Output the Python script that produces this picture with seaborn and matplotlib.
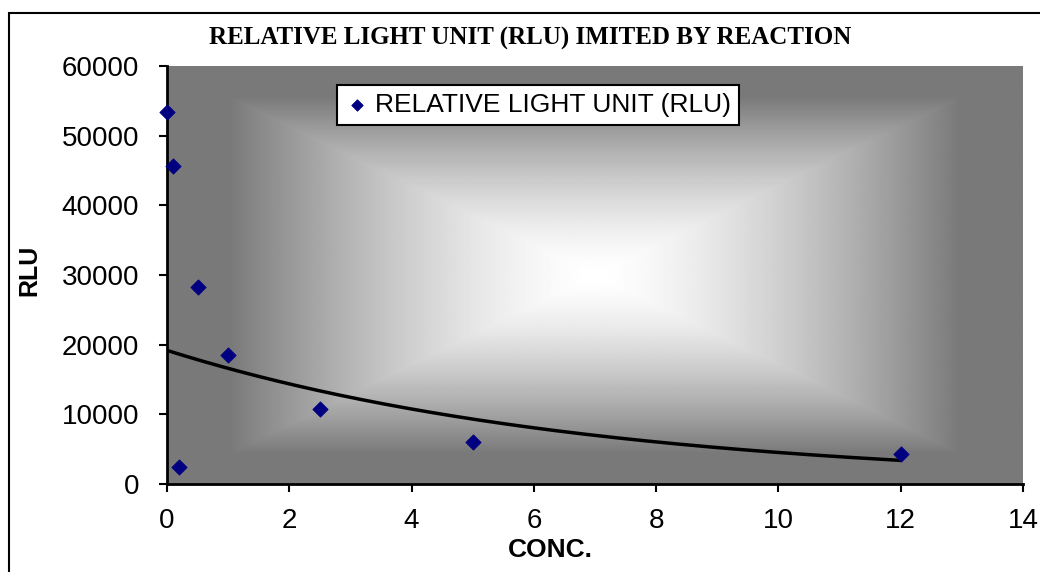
import numpy as np
import pandas as pd
import matplotlib
matplotlib.use("Agg")
import matplotlib.pyplot as plt
import seaborn as sns

# data
conc = [0, 0.1, 0.2, 0.5, 1, 2.5, 5, 12]
rlu = [53400, 45700, 2400, 28300, 18500, 10800, 6000, 4250]
x_ticks = [0, 2, 4, 6, 8, 10, 12, 14]
y_ticks = [0, 10000, 20000, 30000, 40000, 50000, 60000]

sns.set_theme(style="white")
plt.rcParams['font.family'] = ['Liberation Sans', 'DejaVu Sans']
plt.rcParams['text.color'] = 'black'
plt.rcParams['axes.labelcolor'] = 'black'
plt.rcParams['xtick.color'] = 'black'
plt.rcParams['ytick.color'] = 'black'

df = pd.DataFrame({'CONC.': conc, 'RLU': rlu})

# exponential trendline (least squares on ln y, like Excel)
b, ln_a = np.polyfit(df['CONC.'], np.log(df['RLU']), 1)
trend = pd.DataFrame({'CONC.': np.linspace(0, 12, 200)})
trend['RLU'] = np.exp(ln_a) * np.exp(b * trend['CONC.'])

fig = plt.figure(figsize=(10.4, 5.72), dpi=100)
ax = fig.add_axes([167 / 1040, 1 - 484 / 572, (1023 - 167) / 1040, (484 - 66) / 572])

# "from center" gradient background
u = np.linspace(-1, 1, 600)
v = np.linspace(-1, 1, 400)
U, V = np.meshgrid(u, v)
t = np.maximum(np.abs(U), np.abs(V))
shade = 1 - 0.52 * np.clip(t / 0.85, 0, 1) ** 1.5
ax.imshow(shade, cmap='gray', vmin=0, vmax=1, extent=[0, 14, 0, 60000],
          aspect='auto', zorder=0, interpolation='bilinear')

sns.lineplot(data=trend, x='CONC.', y='RLU', ax=ax, color='black', lw=2.5,
             zorder=2, legend=False)
sns.scatterplot(data=df, x='CONC.', y='RLU', ax=ax, marker='D', s=60,
                color='#000080', edgecolor='#000080', zorder=3,
                label='RELATIVE LIGHT UNIT (RLU)', clip_on=False)

ax.set_xlim(0, 14)
ax.set_ylim(0, 60000)
ax.set_xticks(x_ticks)
ax.set_yticks(y_ticks)
ax.tick_params(axis='both', direction='out', length=6, width=1.5, color='black',
               labelsize=20, labelcolor='black', left=True, bottom=True)
ax.tick_params(axis='x', pad=11)
ax.tick_params(axis='y', pad=14)
for side in ['top', 'right']:
    ax.spines[side].set_visible(False)
for side in ['left', 'bottom']:
    ax.spines[side].set_color('black')
    ax.spines[side].set_linewidth(2)

ax.set_xlabel('CONC.', fontsize=19, fontweight='bold')
ax.set_ylabel('RLU', fontsize=18, fontweight='bold')
ax.xaxis.set_label_coords((550 - 167) / 856, (484 - 550) / 418)
ax.xaxis.label.set_va('center')
ax.yaxis.set_label_coords((29 - 167) / 856, (484 - 270) / 418)
ax.yaxis.label.set_va('center')

leg = ax.legend(loc='upper left', bbox_to_anchor=((337 - 167) / 856, 1 - (85 - 66) / 418),
                fontsize=19, frameon=True, fancybox=False, shadow=False,
                handletextpad=0.25, borderpad=0.3, markerscale=0.75, borderaxespad=0,
                handlelength=0.9)
leg.get_frame().set_edgecolor('black')
leg.get_frame().set_linewidth(1.5)
leg.get_frame().set_facecolor('white')
leg.get_frame().set_alpha(1)

fig.text(530 / 1040, 1 - 38 / 572, 'RELATIVE LIGHT UNIT (RLU) IMITED BY REACTION',
         ha='center', va='center', fontsize=18, fontweight='bold',
         family=['Liberation Serif', 'DejaVu Serif'])

# outer chart border
fig.add_artist(plt.Rectangle((9 / 1040, -0.1), 1.2, 1 - 13 / 572 + 0.1,
                             transform=fig.transFigure, fill=False,
                             edgecolor='black', lw=1.5))

fig.savefig('out.png', dpi=100, facecolor='white')
